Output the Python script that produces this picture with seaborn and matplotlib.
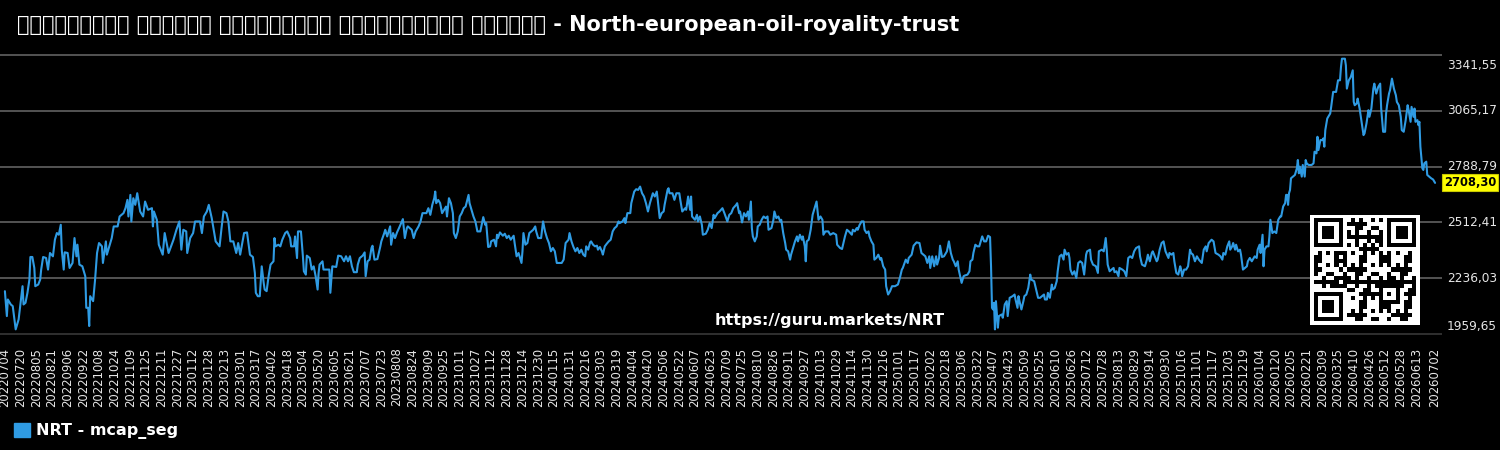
import numpy as np
import pandas as pd
import matplotlib
matplotlib.use("Agg")
import matplotlib.pyplot as plt
import matplotlib.transforms as mtransforms
from matplotlib.patches import Patch
import seaborn as sns

# ---------------- data ----------------
START_DATE = "2022-07-04"
END_DATE = "2026-07-02"
TITLE = "ಮಾರುಕಟ್ಟೆ ವಿಭಾಗದ ಮಾರುಕಟ್ಟೆ ಬಂಡವಾಳೀಕರಣ ಚಾರ್ಟ್ - North-european-oil-royality-trust"
SERIES_LABEL = "NRT - mcap_seg"
WATERMARK = "https://guru.markets/NRT"
Y_TICKS = [1959.65, 2236.03, 2512.41, 2788.79, 3065.17, 3341.55]
LAST_VALUE = 2708.30

# (days since START_DATE, market cap)
seg_2022 = [(0,2171.9),(2,2048.5),(3,2130.8),(6,2106.1),(8,2097.9),(11,1982.7),(14,2032.1),(16,2114.3),(18,2196.6),(19,2106.1),
 (21,2114.3),(23,2163.7),(25,2229.5),(26,2341.3),(28,2341.3),(30,2287.0),(31,2196.6),(34,2204.8),(36,2229.5),(37,2278.8),
 (39,2341.3),(42,2336.4),(44,2278.8),(46,2361.1),(49,2344.6),(51,2426.9),(53,2459.8),(55,2451.5),(57,2500.9),(58,2377.5),
 (60,2278.8),(61,2364.4),(64,2361.1),(66,2287.0),(69,2311.7),(71,2435.1),(73,2344.6),(74,2402.2),(76,2303.5),(79,2295.3),
 (82,2245.9),(83,2089.6),(85,2089.6),(86,1999.2),(87,2147.2),(90,2122.5),(92,2229.5),(94,2361.1),(96,2410.4),(99,2393.9),
 (100,2311.7),(103,2418.6),(104,2352.8),(109,2435.1),(111,2492.7),(115,2492.7),(117,2542.0),(121,2558.5),(123,2583.1),(125,2624.3),
 (126,2542.0),(128,2649.0),(129,2517.3),(131,2632.5),(133,2599.6),(135,2657.2),(138,2566.7),(141,2542.0),(143,2616.0),(146,2574.9),
 (150,2583.1),(151,2492.7),(152,2566.7),(155,2525.6),(157,2402.2),(161,2352.8),(163,2459.8),(167,2361.1),(172,2426.9),(175,2476.2),
 (178,2517.3),(180,2377.5),(182,2476.2),(185,2468.0),(186,2361.1),(189,2435.1),(192,2459.8),(194,2517.3),(199,2517.3),(201,2459.8),
 (203,2542.0),(206,2566.7),(208,2599.6),(211,2533.8),(213,2476.2),(215,2418.6),(219,2393.9),(221,2484.5),(223,2566.7),(226,2558.5),
 (228,2517.3),(230,2418.6),(233,2418.6),(236,2361.1),(238,2410.4),(240,2352.8),(244,2459.8)]

seg_2023 = [(247,2463),(250,2352.8),(253,2341),(255,2262),(256,2163.7),(258,2147),(260,2147),(262,2295),(264,2213),(265,2180),
 (267,2172),(269,2246),(271,2303.5),(274,2320),(275,2435),(276,2394),(279,2402),(281,2394),(283,2427),(286,2460),(288,2468),
 (291,2435),(292,2394),(295,2394),(296,2443),(298,2336),(299,2468),(302,2468),(304,2344.6),(305,2270.6),(307,2254),(308,2348),
 (311,2336),(313,2279),(315,2295),(317,2246),(319,2180),(320,2262),(321,2303.5),(324,2320),(325,2279),(328,2279),(331,2279),
 (332,2164),(334,2295),(338,2292),(340,2348),(343,2345),(346,2320),(348,2345),(350,2320),(352,2345),(354,2295),(356,2266),
 (359,2266),(360,2303.5),(362,2336),(365,2348),(367,2364),(368,2246),(370,2320),(372,2328),(374,2386),(375,2397),(377,2328),
 (380,2331),(383,2394),(384,2418.6),(387,2459.8),(388,2476),(390,2443),(391,2460),(393,2493),(394,2402),(396,2460),(398,2435),
 (400,2463),(402,2484),(405,2517),(406,2529),(408,2435),(410,2484),(411,2493),(415,2476),(417,2435),(419,2468),(422,2493),
 (424,2517),(426,2558.5),(430,2558.5),(432,2583),(434,2550),(436,2599.6),(438,2632.5),(439,2665.4),(440,2608),(442,2624),
 (444,2608),(446,2558.5),(448,2575),(450,2591),(451,2542),(453,2632.5),(455,2608),(457,2558.5),(458,2460),(460,2435),(462,2468),
 (464,2542),(466,2558.5),(468,2583),(470,2591),(473,2649),(474,2608),(478,2542),(480,2517),(482,2468),(485,2468)]

seg_2024a = [(488,2538.8),(490,2500.9),(491,2509),(493,2390.7),(495,2394),(496,2418.7),(499,2426.9),(501,2394),(502,2451.6),
 (503,2435),(505,2463),(508,2446.6),(510,2456.5),(512,2435),(514,2446.6),(516,2426.9),(519,2446.6),(520,2410.4),(522,2344.6),
 (524,2361),(525,2344.6),(527,2311.7),(528,2369.3),(529,2459.8),(531,2402.2),(533,2410.4),(535,2459.8),(537,2468),(539,2476.2),
 (541,2492.7),(542,2468),(544,2435),(547,2435),(549,2517.4),(551,2468),(553,2435),(555,2410.4),(557,2369.3),(559,2385.8),
 (561,2369.3),(563,2311.7),(568,2311.7),(570,2328.2),(572,2410.4),(575,2426.9),(576,2459.8),(578,2418.7),(580,2390.7),
 (582,2369.3),(584,2385.8),(586,2361),(588,2377.5),(590,2353),(592,2344.6),(593,2394),(595,2377.5),(597,2413.7),(598,2418.7),
 (600,2402.2),(602,2394),(604,2397.3),(605,2377.5),(607,2390.7),(609,2369.3),(610,2353),(612,2394),(614,2407),(616,2418.7),
 (618,2426.9),(620,2468),(622,2484.5),(624,2492.7),(626,2517.4),(627,2509),(630,2517),(632,2533.8),(633,2509),(635,2558.5),
 (638,2558.5),(639,2607.8),(642,2665.4),(644,2677),(646,2673.6),(648,2690),(650,2657),(652,2640.7),(654,2607.8),(656,2566.7),
 (658,2607.8),(661,2657),(663,2640.7),(665,2665.4),(666,2624.3),(668,2533.8),(670,2558.5),(672,2566.7),(673,2599.6),(676,2673.6),
 (677,2681.9),(678,2657),(681,2657),(683,2624.3),(685,2657),(688,2657),(689,2624.3),(691,2566.7),(694,2583),(695,2575),
 (697,2640.7),(699,2575),(700,2640.7),(701,2542),(704,2525.6),(706,2550.3),(707,2517.4),(709,2542),(711,2500.9),(712,2451.6),
 (715,2456.5),(717,2476.2),(719,2509),(721,2484.5),(723,2550.3),(724,2533.8),(727,2558.5),(729,2566.7)]

seg_2024b = [(732,2583.1),(734,2558.5),(737,2517.4),(739,2550.3),(741,2558.5),(743,2583.1),(746,2599.6),(747,2607.8),(749,2558.5),
 (750,2566.7),(752,2512.4),(754,2558.5),(756,2542),(758,2566.7),(759,2525.6),(761,2616),(762,2484.5),(763,2443.3),(765,2418.6),
 (767,2443.3),(768,2492.7),(770,2500.9),(772,2525.6),(774,2542),(776,2533.8),(778,2542),(779,2476.2),(782,2484.5),(784,2525.6),
 (785,2566.7),(787,2533.8),(789,2542),(791,2517.4),(792,2525.6),(794,2459.8),(796,2410.4),(797,2377.5),(799,2369.3),(801,2328.2),
 (802,2352.8),(804,2385.8),(806,2418.6),(808,2443.3),(809,2418.6),(811,2451.5),(813,2426.9),(814,2443.3),(816,2394),(817,2320),
 (818,2418.6),(820,2426.9),(822,2476.2),(824,2550.3),(826,2583.1),(828,2616),(830,2525.6),(832,2542),(834,2525.6),(835,2451.5),
 (837,2468),(840,2468),(842,2451.5),(845,2459.8),(848,2451.5),(849,2402.2),(852,2385.8),(854,2380.8),(857,2443.3),(859,2476.2),
 (861,2468),(864,2451.5),(865,2476.2),(867,2468),(869,2484.5),(870,2476.2),(872,2500.9),(874,2517.4),(876,2517.4),(877,2476.2),
 (879,2459.8),(881,2468),(882,2443.3),(884,2418.6),(886,2402.2),(887,2328.2),(889,2336.4),(891,2352.8),(893,2328.2),(894,2336.4),
 (896,2295.3),(898,2278.8),(899,2196.6),(901,2155.4),(903,2171.9),(905,2196.6),(908,2196.6),(911,2204.8),(913,2237.7),(915,2278.8),
 (916,2287),(919,2328.2),(921,2311.7),(922,2336.4),(925,2352.8),(927,2397.3),(930,2413.7),(933,2410.4),(935,2361.1),(937,2352.8),
 (939,2344.6),(941,2311.7),(943,2344.6),(944,2287),(946,2344.6),(948,2295.3),(950,2344.6),(951,2303.5),(953,2336.4),(954,2397.3),
 (956,2341.3),(958,2344.6),(961,2369.3),(963,2418.6),(965,2361.1),(967,2328.2),(968,2320),(970,2295.3),(972,2320),(973,2278.8)]

seg_2025 = [(976,2213),(978,2246),(979,2249),(982,2254),(984,2270.6),(985,2320),(987,2328),(988,2361),(990,2402),(992,2394),
 (994,2394),(995,2410.4),(997,2443.3),(999,2418.6),(1001,2418.6),(1003,2446.6),(1005,2440),(1006,2295),(1007,2089.6),(1008,2081.4),
 (1009,2114.3),(1010,1982.7),(1011,2122.5),(1013,1991),(1014,2048.5),(1017,2056.7),(1018,2040.2),(1020,2106.1),(1022,2122.5),
 (1023,2048.5),(1025,2139),(1028,2147.2),(1030,2155.4),(1031,2130.8),(1033,2089.6),(1034,2147.2),(1035,2122.5),(1037,2081.4),
 (1039,2122.5),(1040,2147.2),(1042,2155.4),(1044,2188.3),(1046,2254.2),(1047,2229.5),(1050,2221.3),(1052,2180.1),(1054,2139),
 (1056,2139),(1058,2147.2),(1060,2155.4),(1061,2130.8),(1063,2130.8),(1064,2163.7),(1066,2139),(1068,2204.8),(1069,2180.1),
 (1071,2188.3),(1073,2221.3),(1074,2270.6),(1076,2344.6),(1078,2352.8),(1080,2328.2),(1081,2377.5),(1083,2352.8),(1085,2361.1),
 (1086,2336.4),(1087,2278.8),(1089,2254.2),(1091,2270.6),(1093,2237.7),(1095,2311.7),(1097,2320),(1099,2311.7),(1101,2254.2),
 (1103,2352.8),(1104,2369.3),(1107,2377.5),(1108,2328.2),(1110,2303.5),(1113,2295.3),(1115,2262.4),(1116,2369.3),(1119,2377.5),
 (1121,2369.3),(1123,2435.1),(1124,2377.5),(1125,2303.5),(1127,2270.6),(1129,2278.8),(1131,2287),(1132,2265.7),(1134,2270.6),
 (1136,2245.9),(1137,2287),(1140,2278.8),(1142,2270.6),(1144,2245.9),(1146,2336.4),(1148,2344.6),(1150,2336.4),(1152,2369.3),
 (1154,2385.8),(1157,2394),(1158,2344.6),(1160,2303.5),(1163,2295.3),(1165,2328.2),(1166,2352.8),(1168,2320),(1170,2361.1),
 (1171,2369.3),(1173,2344.6),(1175,2320),(1176,2328.2),(1178,2377.5),(1180,2410.4),(1182,2418.6),(1184,2369.3),(1187,2336.4),
 (1188,2361.1),(1190,2352.8),(1192,2361.1),(1193,2320),(1195,2262.4),(1197,2254.2),(1199,2295.3),(1200,2278.8),(1201,2245.9),
 (1203,2278.8),(1205,2278.8),(1207,2295.3),(1209,2377.5),(1210,2361.1),(1212,2352.8),(1214,2320),(1216,2344.6),(1218,2328.2)]

seg_2026 = [(1221,2311.7),(1223,2377.5),(1225,2394),(1226,2369.3),(1228,2410.4),(1231,2426.9),(1233,2418.6),(1235,2361.1),
 (1238,2352.8),(1240,2344.6),(1242,2328.2),(1243,2361.1),(1245,2352.8),(1247,2394),(1249,2418.6),(1250,2377.5),(1252,2394),
 (1253,2410.4),(1255,2377.5),(1256,2402.2),(1258,2369.3),(1260,2377.5),(1261,2352.8),(1263,2278.8),(1265,2287),(1267,2295.3),
 (1268,2320),(1270,2336.4),(1272,2320),(1273,2328.2),(1275,2344.6),(1277,2336.4),(1278,2377.5),(1280,2402.2),(1281,2361.1),
 (1283,2451.5),(1284,2295.3),(1285,2377.5),(1287,2394),(1289,2394),(1290,2443.3),(1291,2525.6),(1293,2459.8),(1295,2468),
 (1297,2459.8),(1299,2525.6),(1301,2542),(1302,2542),(1304,2591.4),(1306,2607.8),(1307,2648.9),(1308,2648.9),(1309,2599.6),
 (1310,2657.2),(1311,2673.6),(1312,2731.2),(1314,2739.5),(1316,2747.7),(1318,2780.6),(1319,2821.7),(1320,2756),(1321,2788.8),
 (1323,2739.5),(1324,2797),(1326,2739.5),(1327,2821.7),(1328,2805.2),(1330,2797),(1333,2797),(1335,2805.2),(1336,2862.8),
 (1338,2854.6),(1339,2936.8),(1340,2871),(1342,2920.4),(1344,2920.4),(1345,2928.6),(1346,2887.5),(1347,2969.8),(1349,3027.4),
 (1350,3035.6),(1352,3052.1),(1353,3085),(1355,3159),(1358,3159),(1360,3216.6),(1362,3216.6),(1363,3282.4),(1364,3323.5),
 (1367,3323.5),(1368,3290.6),(1369,3175.4),(1371,3216.6),(1373,3233),(1375,3265.9),(1376,3109.6),(1377,3093.1),(1379,3101.4),
 (1380,3126),(1382,3076.7),(1384,3010.9),(1386,2945),(1387,2953.3),(1389,3002.7),(1391,3068.4),(1392,3035.6),(1394,3076.7),
 (1396,3175.4),(1397,3200.1),(1399,3150.8),(1401,3183.7),(1403,3200.1),(1404,3076.7),(1406,2961.5),(1408,2961.5),(1409,3052.1),
 (1410,3093.1),(1412,3150.8),(1413,3167.2),(1415,3224.8),(1417,3175.4),(1419,3142.5),(1420,3109.6),(1422,3093.1),(1424,3035.6),
 (1425,2969.8),(1427,2961.5),(1429,3019.1),(1431,3093.1),(1432,3068.4),(1434,3010.9),(1435,3085),(1437,3035.6),(1438,3076.7),
 (1439,3010.9),(1441,3019.1),(1442,2994.4),(1443,3010.9),(1444,2887.5),(1446,2780.6),(1447,2772.4),(1448,2805.2),(1450,2813.5),
 (1451,2747.7),(1453,2739.5),(1455,2731.2),(1457,2725.0),(1459,2708.30)]

# ---------------- styling ----------------
LINE_COLOR = "#2f9be3"
BG = "#000000"
GRID = "#5a5a5a"
TEXT = "#e6e6e6"

sns.set_theme(style="dark")
plt.rcParams["font.family"] = ["DejaVu Sans", "Noto Sans"]
plt.rcParams["axes.facecolor"] = BG
plt.rcParams["figure.facecolor"] = BG

df = pd.DataFrame(seg_2022 + seg_2023 + seg_2024a + seg_2024b + seg_2025 + seg_2026,
                  columns=["day", "value"])
start = pd.Timestamp(START_DATE)
end = pd.Timestamp(END_DATE)
df["date"] = start + pd.to_timedelta(df["day"], unit="D")

fig = plt.figure(figsize=(15, 4.5), dpi=100, facecolor=BG)
ax = fig.add_axes([0.0, 0.2444, 0.9613, 0.646])
ax.set_facecolor(BG)

sns.lineplot(data=df, x="date", y="value", ax=ax, color=LINE_COLOR,
             linewidth=1.5, estimator=None, legend=False)

ax.set_xlim(start - pd.Timedelta(days=5), start + pd.Timedelta(days=1466))
ax.set_ylim(1930, 3370)

# y axis on the right; edge labels kept inside the gridline band
ax.set_yticks(Y_TICKS)
ax.set_yticklabels([f"{v:.2f}".replace(".", ",") for v in Y_TICKS])
ax.yaxis.tick_right()
ax.tick_params(axis="y", length=0, pad=3.6, labelcolor=TEXT, labelsize=8.7)
ylabels = ax.get_yticklabels()
for i, lbl in enumerate(ylabels):
    if i == 0:
        lbl.set_va("bottom")
        off = mtransforms.ScaledTranslation(0, 1.0 / 72, fig.dpi_scale_trans)
    elif i == len(ylabels) - 1:
        lbl.set_va("top")
        off = mtransforms.ScaledTranslation(0, -2.6 / 72, fig.dpi_scale_trans)
    else:
        lbl.set_va("center")
        off = mtransforms.ScaledTranslation(0, 0, fig.dpi_scale_trans)
    lbl.set_transform(lbl.get_transform() + off)

# x ticks every 16 days + final date
tick_dates = list(pd.date_range(start, end, freq="16D"))
if (end - tick_dates[-1]).days < 16:
    tick_dates = tick_dates[:-1]
tick_dates.append(end)
ax.set_xticks(tick_dates)
ax.set_xticklabels([d.strftime("%Y%m%d") for d in tick_dates], rotation=90)
ax.tick_params(axis="x", length=0, pad=5.5, labelcolor=TEXT, labelsize=8.4)

ax.set_xlabel("")
ax.set_ylabel("")
ax.grid(False)
ax.grid(axis="y", color=GRID, linewidth=1.3)
ax.get_ygridlines()[0].set_color("#333333")
for s in ax.spines.values():
    s.set_visible(False)

# last value marker
ax.annotate(f"{LAST_VALUE:.2f}".replace(".", ","), xy=(1.0, LAST_VALUE),
            xycoords=("axes fraction", "data"), xytext=(1.6, 0), textcoords="offset points",
            ha="left", va="center", fontsize=8.3, fontweight="bold", color="black",
            bbox=dict(boxstyle="square,pad=0.18", fc="#ffff00", ec="#c8c800", lw=0.8),
            annotation_clip=False)

# title
fig.text(17 / 1500, 1 - 25 / 450, TITLE, fontsize=15, fontweight="bold",
         color="white", ha="left", va="center")

# watermark
fig.text(830 / 1500, 1 - 320 / 450, WATERMARK, fontsize=11.5, fontweight="bold",
         color="white", ha="center", va="center")

# QR-like badge
def qr_pattern(n=25):
    m = np.zeros((n, n), dtype=bool)
    for i in range(n):
        for j in range(n):
            m[i, j] = ((i * i * 3 + j * 5 + i * j * 7) % 11) < 5
    m[0:8, 0:8] = False
    m[0:8, n - 8:] = False
    m[n - 8:, 0:8] = False

    def finder(r, c):
        m[r:r + 7, c:c + 7] = True
        m[r + 1:r + 6, c + 1:c + 6] = False
        m[r + 2:r + 5, c + 2:c + 5] = True

    finder(0, 0)
    finder(0, n - 7)
    finder(n - 7, 0)
    m[6, 8:n - 8] = (np.arange(8, n - 8) % 2) == 0
    m[8:n - 8, 6] = (np.arange(8, n - 8) % 2) == 0
    m[16:21, 16:21] = True
    m[17:20, 17:20] = False
    m[18, 18] = True
    return np.pad(m, 1, constant_values=False)

qax = fig.add_axes([1310 / 1500, 1 - 325 / 450, 110 / 1500, 110 / 450])
qax.imshow(~qr_pattern(), cmap="gray", interpolation="nearest", vmin=0, vmax=1)
qax.set_axis_off()

# legend
fig.legend(handles=[Patch(facecolor=LINE_COLOR, edgecolor=LINE_COLOR, label=SERIES_LABEL)],
           loc="lower left", bbox_to_anchor=(0.0, -0.008), frameon=False,
           labelcolor="white", prop={"weight": "bold", "size": 11.5},
           handlelength=1.0, handleheight=1.0, handletextpad=0.35)

fig.savefig("out.png", dpi=100, facecolor=BG)
